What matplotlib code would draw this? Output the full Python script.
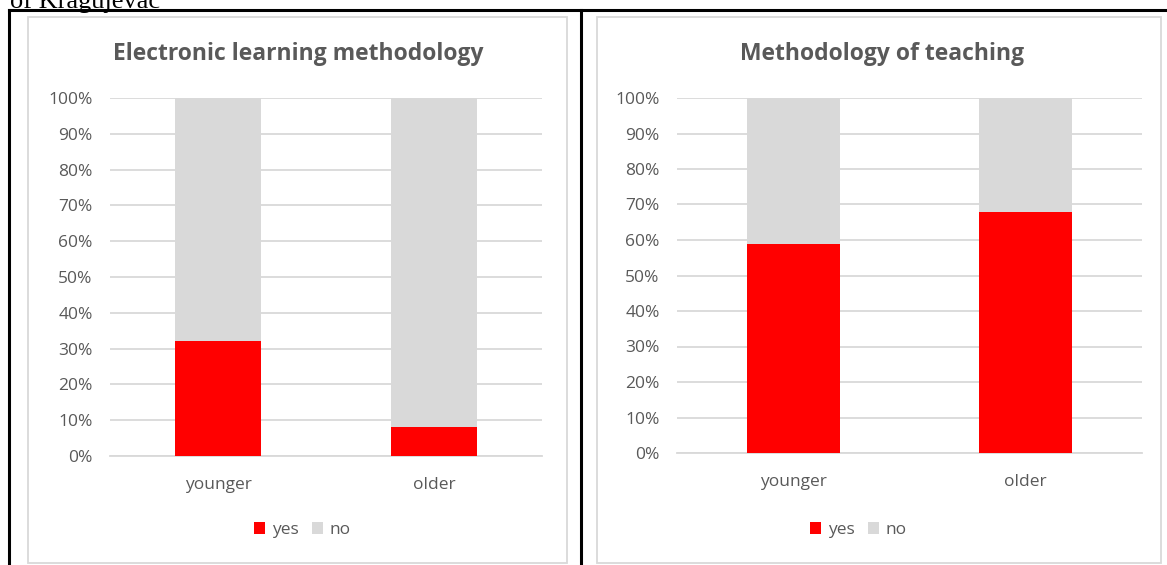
import matplotlib.pyplot as plt
from matplotlib.patches import Rectangle
from matplotlib.lines import Line2D
from matplotlib.ticker import PercentFormatter

# data
groups = ["younger", "older"]
elearn_yes = [32, 8]
teach_yes = [59, 68]
titles = ["Electronic learning methodology", "Methodology of teaching"]
yticks = list(range(0, 101, 10))

W, H = 1167, 565
RED = "#ff0000"
GREY = "#d9d9d9"
TXT = "#595959"
FONT = "Open Sans"

fig = plt.figure(figsize=(W / 100, H / 100), dpi=100)


def px(x0, y0, x1, y1):
    # pixel box (top-left origin) -> figure fraction
    return [x0 / W, 1 - y1 / H, (x1 - x0) / W, (y1 - y0) / H]


# cut-off caption text at the top of the page
fig.text(10 / W, 1 - 8 / H, "of Kragujevac", family="Liberation Serif",
         fontsize=19, va="baseline", ha="left", color="black")

# table borders
for (x0, y0, x1, y1) in [(9, 10, W, 10), (9, 10, 9, H), (581, 10, 581, H)]:
    fig.add_artist(Line2D([x0 / W, x1 / W], [1 - y0 / H, 1 - y1 / H],
                          color="black", lw=2.2, transform=fig.transFigure))

# chart frames
for (x0, y0, x1, y1) in [(28, 17, 567, 563), (597, 17, 1161, 563)]:
    fig.add_artist(Rectangle((x0 / W, 1 - y1 / H), (x1 - x0) / W, (y1 - y0) / H,
                             transform=fig.transFigure, fill=False,
                             edgecolor=GREY, lw=1.3))

charts = [
    (elearn_yes, px(110, 98, 542, 456), 298, 257),
    (teach_yes, px(677, 98, 1142, 453), 882, 813),
]

for i, (yes, box, title_x, leg_x) in enumerate(charts):
    no = [100 - v for v in yes]
    ax = fig.add_axes(box)
    xs = range(len(groups))
    ax.bar(xs, yes, width=0.4, color=RED, label="yes", zorder=3)
    ax.bar(xs, no, width=0.4, bottom=yes, color=GREY, label="no", zorder=3)
    ax.set_xlim(-0.5, 1.5)
    ax.set_ylim(0, 100)
    ax.set_yticks(yticks)
    ax.yaxis.set_major_formatter(PercentFormatter(decimals=0))
    ax.set_xticks(list(xs))
    ax.set_xticklabels(groups)
    ax.grid(axis="y", color=GREY, lw=1.3, zorder=0)
    ax.set_axisbelow(True)
    for s in ["top", "right", "left"]:
        ax.spines[s].set_visible(False)
    ax.spines["bottom"].set_color(GREY)
    ax.spines["bottom"].set_linewidth(1.3)
    ax.tick_params(axis="both", length=0, labelsize=12.5, labelcolor=TXT)
    ax.tick_params(axis="y", pad=12.5)
    ax.tick_params(axis="x", pad=15)
    for lab in ax.get_xticklabels() + ax.get_yticklabels():
        lab.set_family(FONT)
    fig.text(title_x / W, 1 - 54 / H, titles[i], ha="center", va="center",
             fontsize=16.5, fontweight="bold", color=TXT, family=FONT)
    leg = fig.legend(handles=ax.get_legend_handles_labels()[0],
                     labels=["yes", "no"], loc="center left",
                     bbox_to_anchor=((leg_x - 8) / W, 1 - 530 / H), ncol=2,
                     frameon=False, handlelength=0.65, handleheight=0.65,
                     handletextpad=0.35, columnspacing=0.8,
                     borderaxespad=0, borderpad=0.3,
                     prop={"family": FONT, "size": 12.5})
    for t in leg.get_texts():
        t.set_color(TXT)

fig.savefig("out.png", dpi=100, facecolor="white")
